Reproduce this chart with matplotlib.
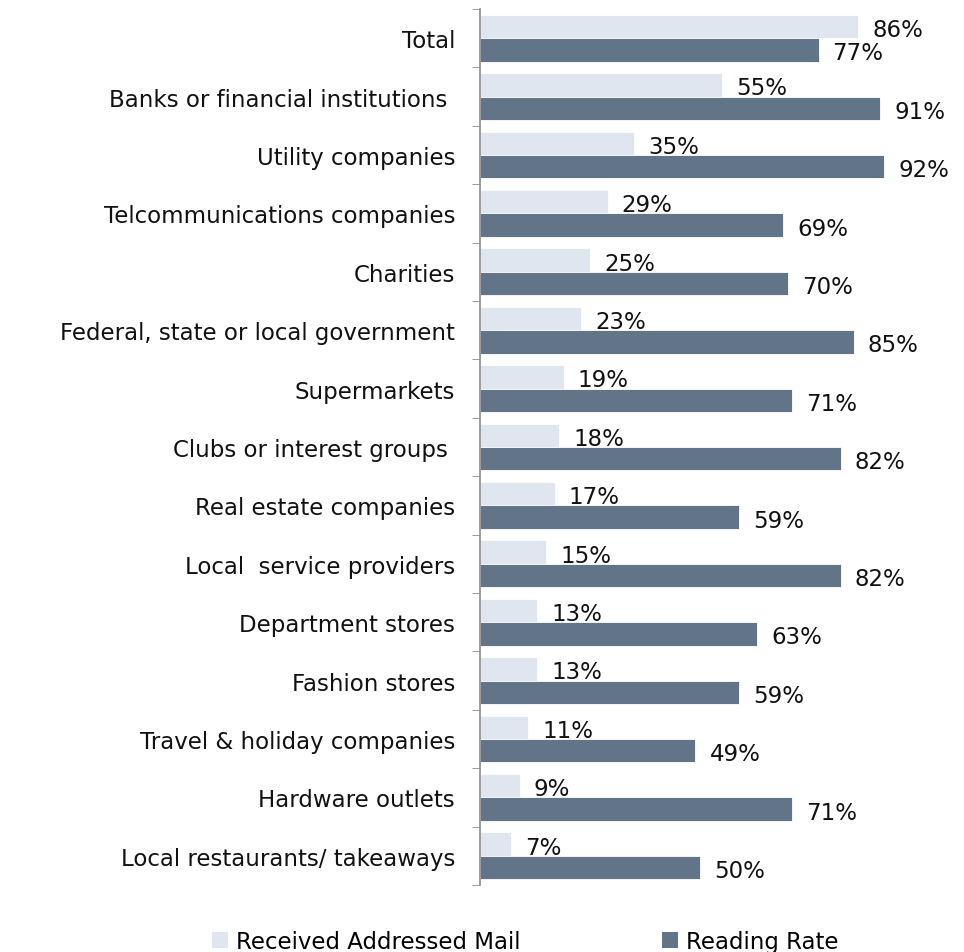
import matplotlib.pyplot as plt
from matplotlib.patches import Patch
from matplotlib.ticker import FixedLocator, NullLocator
import numpy as np

categories = [
    "Total",
    "Banks or financial institutions ",
    "Utility companies",
    "Telcommunications companies",
    "Charities",
    "Federal, state or local government",
    "Supermarkets",
    "Clubs or interest groups ",
    "Real estate companies",
    "Local  service providers",
    "Department stores",
    "Fashion stores",
    "Travel & holiday companies",
    "Hardware outlets",
    "Local restaurants/ takeaways",
]
received_mail = [86, 55, 35, 29, 25, 23, 19, 18, 17, 15, 13, 13, 11, 9, 7]
reading_rate = [77, 91, 92, 69, 70, 85, 71, 82, 59, 82, 63, 59, 49, 71, 50]

light = "#e0e6f0"
dark = "#627487"
fs = 16.5

plt.rcParams['font.family'] = ['DejaVu Sans']

fig = plt.figure(figsize=(9.64, 9.53), dpi=100)
ax = fig.add_axes([0.498, 0.0703, 0.456, 0.9192])

y = np.arange(len(categories))
h = 0.4
ax.barh(y - h / 2, received_mail, height=h, color=light, edgecolor='white', linewidth=0.6)
ax.barh(y + h / 2, reading_rate, height=h, color=dark, edgecolor='white', linewidth=0.6)

ax.set_xlim(0, 100)
ax.set_ylim(len(categories) - 0.5, -0.5)

# value labels just past the bar ends, nudged a little downward
for i, (a, b) in enumerate(zip(received_mail, reading_rate)):
    ax.annotate(f"{a}%", (a, i - h / 2), xytext=(14, -3), textcoords='offset pixels',
                ha='left', va='center', fontsize=fs, color='#111111')
    ax.annotate(f"{b}%", (b, i + h / 2), xytext=(14, -3), textcoords='offset pixels',
                ha='left', va='center', fontsize=fs, color='#111111')

ax.set_yticks(y)
ax.set_yticklabels(categories, fontsize=fs, color='#111111')
ax.tick_params(axis='y', which='major', length=0, pad=18)
ax.yaxis.set_minor_locator(FixedLocator(np.arange(-0.5, len(categories), 1)))
ax.tick_params(axis='y', which='minor', length=6, color='#8c8c8c', direction='out')
ax.xaxis.set_major_locator(NullLocator())

for side in ['top', 'right', 'bottom']:
    ax.spines[side].set_visible(False)
ax.spines['left'].set_color('#8c8c8c')
ax.spines['left'].set_linewidth(1.2)

handles = [Patch(facecolor=light, edgecolor='none', label="Received Addressed Mail"),
           Patch(facecolor=dark, edgecolor='none', label="Reading Rate")]
fig.legend(handles=handles, loc='center', bbox_to_anchor=(0.545, 0.011), ncol=2,
           frameon=False, fontsize=fs, handlelength=0.7, handleheight=0.7,
           handletextpad=0.35, columnspacing=6.2)

fig.savefig("out.png", dpi=100)
